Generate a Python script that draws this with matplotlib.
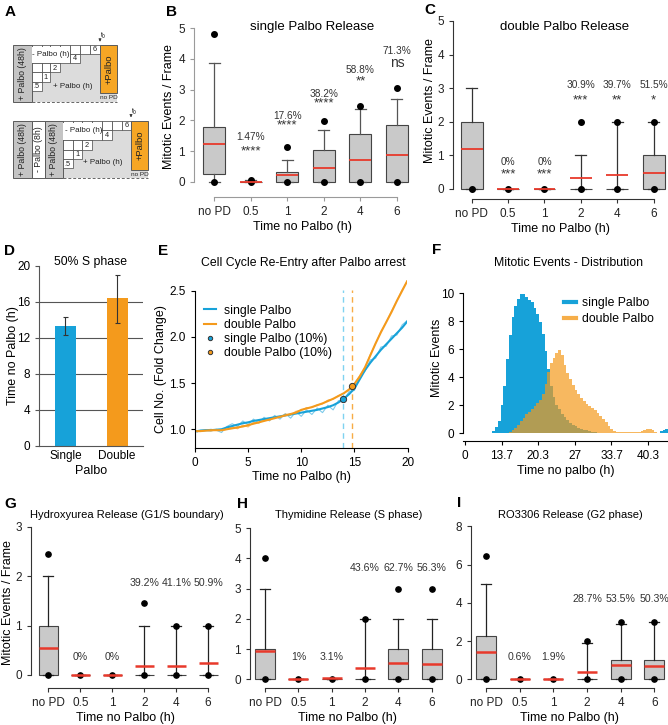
import numpy as np
import matplotlib
matplotlib.use('Agg')
import matplotlib.pyplot as plt
from matplotlib.patches import Rectangle

plt.rcParams['font.family'] = ['Liberation Sans', 'DejaVu Sans']

W, H = 668, 725
BLUE = '#17a2d9'
ORANGE = '#f49a1c'
RED = '#e8392b'
BOXGRAY = '#c9c9c9'

CATS = ['no PD', '0.5', '1', '2', '4', '6']

# --- B: single Palbo release (box stats)
B_Q1 = [0.25, 0, 0, 0, 0, 0]
B_MED = [1.22, 0.0, 0.22, 0.45, 0.72, 0.88]
B_Q3 = [1.8, 0.0, 0.32, 1.05, 1.55, 1.84]
B_HI = [3.85, 0.05, 0.7, 1.68, 2.37, 2.7]
B_OUT = [[0, 4.8], [0, 0.06], [0, 1.12], [0, 1.97], [0, 2.47], [0, 3.05]]
B_PCT = ['', '1.47%', '17.6%', '38.2%', '58.8%', '71.3%']
B_SIG = ['', '****', '****', '****', '**', 'ns']

# --- C: double Palbo release
C_Q1 = [0, 0, 0, 0, 0, 0]
C_MED = [1.2, 0, 0, 0.33, 0.4, 0.47]
C_Q3 = [2, 0, 0, 0, 0, 1]
C_HI = [3, 0, 0, 1, 2, 2]
C_OUT = [[0], [0], [0], [0, 2], [0, 2], [0, 2]]
C_PCT = ['', '0%', '0%', '30.9%', '39.7%', '51.5%']
C_SIG = ['', '***', '***', '***', '**', '*']

# --- D: 50% S phase
D_CATS = ['Single', 'Double']
D_VALS = [13.3, 16.4]
D_ERR_LO = [12.3, 13.7]
D_ERR_HI = [14.3, 19.0]

# --- E: cell number fold change
E_T = [0.2, 0.5, 1.0, 1.5, 2.0, 2.5, 3.0, 3.5, 4.0, 4.5, 5.0, 5.5, 6.0, 6.5,
       7.0, 7.5, 8.0, 8.5, 9.0, 9.5, 10.0, 10.5, 11.0, 11.5, 12.0, 12.5, 13.0,
       13.5, 14.0, 14.5, 15.0, 15.5, 16.0, 16.5, 17.0, 17.5, 18.0, 18.5, 19.0,
       19.5, 20.0]
E_SINGLE_RAW = [0.97, 0.99, 0.99, 1.0, 0.99, 0.965, 1.03, 1.06, 1.03, 1.09, 1.05,
                1.11, 1.07, 1.13, 1.09, 1.15, 1.11, 1.17, 1.12, 1.19, 1.14, 1.21,
                1.16, 1.23, 1.18, 1.26, 1.21, 1.31, 1.31, 1.41, 1.42, 1.57, 1.63,
                1.75, 1.77, 1.89, 1.90, 2.01, 2.02, 2.13, 2.18]
E_SINGLE_FIT = [0.98, 0.985, 0.99, 0.99, 0.995, 1.0, 1.02, 1.035, 1.05, 1.065,
                1.075, 1.09, 1.10, 1.11, 1.12, 1.13, 1.14, 1.15, 1.16, 1.17, 1.18,
                1.19, 1.20, 1.21, 1.225, 1.24, 1.26, 1.29, 1.33, 1.38, 1.44, 1.54,
                1.64, 1.72, 1.79, 1.86, 1.92, 1.98, 2.04, 2.10, 2.17]
E_DOUBLE_RAW = [0.98, 0.985, 0.99, 0.98, 1.0, 0.985, 1.0, 1.025, 1.005, 1.045, 1.025,
                1.075, 1.065, 1.105, 1.095, 1.135, 1.125, 1.165, 1.155, 1.195, 1.205,
                1.235, 1.235, 1.265, 1.275, 1.315, 1.325, 1.365, 1.385, 1.435, 1.49,
                1.58, 1.67, 1.81, 1.93, 2.06, 2.16, 2.28, 2.39, 2.51, 2.61]
E_DOUBLE_FIT = [0.98, 0.98, 0.985, 0.99, 0.99, 0.99, 1.0, 1.01, 1.02, 1.03, 1.045,
                1.06, 1.075, 1.09, 1.105, 1.12, 1.135, 1.15, 1.165, 1.18, 1.21,
                1.225, 1.24, 1.26, 1.28, 1.305, 1.33, 1.36, 1.39, 1.43, 1.49, 1.57,
                1.67, 1.80, 1.93, 2.05, 2.16, 2.27, 2.39, 2.50, 2.61]
E_MARK_T = [13.9, 14.8]
E_MARK_Y = [1.33, 1.47]

# --- F: mitotic event distribution, 0.5 h bins starting at 8 h
F_BIN0 = 8.0
F_BINW = 0.5
F_SINGLE = [0.05, 0.05, 0, 0, 0, 0, 0, 0.05, 0.15, 0.45, 0.9, 2.0, 3.4, 5.3, 7.0,
            8.3, 9.1, 9.6, 9.95, 9.95, 9.75, 9.55, 9.35, 8.95, 8.5, 7.95, 7.1, 5.9,
            4.6, 3.4, 2.6, 2.05, 1.7, 1.4, 1.15, 0.95, 0.75, 0.6, 0.5, 0.4, 0.32,
            0.25, 0.2, 0.15, 0.12, 0.08, 0.05, 0.03,
            0, 0, 0, 0, 0, 0, 0, 0, 0, 0, 0, 0, 0, 0, 0, 0, 0, 0, 0, 0,
            0.05, 0.15, 0.25, 0.3]
F_DOUBLE = [0.05, 0.05, 0, 0, 0, 0, 0, 0, 0, 0, 0, 0, 0,
            0.05, 0.1, 0.2, 0.35, 0.6, 0.85, 1.1, 1.35, 1.55, 1.75, 1.95, 2.15,
            2.4, 2.8, 3.5, 4.4, 5.0, 5.35, 5.7, 5.95, 5.6, 4.9, 4.3, 3.85, 3.45,
            3.1, 2.8, 2.5, 2.3, 2.1, 1.95, 1.8, 1.65, 1.45, 1.25, 1.05, 0.8, 0.55,
            0.3, 0.15, 0.1, 0.1, 0.08, 0.1, 0.08, 0.1, 0.1, 0.1, 0.12, 0.15, 0.25,
            0.3, 0.3, 0.2, 0.1, 0.05, 0, 0, 0]
F_TICKS = [7.0, 13.7, 20.3, 27.0, 33.7, 40.3]
F_TICKLABELS = ['0', '13.7', '20.3', '27', '33.7', '40.3']

# --- G: hydroxyurea release
G_Q1 = [0, 0, 0, 0, 0, 0]
G_MED = [0.55, 0, 0, 0.19, 0.19, 0.24]
G_Q3 = [1, 0, 0, 0, 0, 0]
G_HI = [2, 0, 0, 1, 1, 1]
G_OUT = [[0, 2.45], [0], [0], [0, 1.45], [0, 1], [0, 1]]
G_PCT = ['', '0%', '0%', '39.2%', '41.1%', '50.9%']

# --- H: thymidine release
H_Q1 = [0, 0, 0, 0, 0, 0]
H_MED = [0.95, 0.01, 0.03, 0.38, 0.55, 0.5]
H_Q3 = [1, 0, 0, 0, 1, 1]
H_HI = [3, 0, 0, 2, 2, 2]
H_OUT = [[0, 4], [0], [0], [0, 2], [0, 3], [0, 3]]
H_PCT = ['', '1%', '3.1%', '43.6%', '62.7%', '56.3%']

# --- I: RO3306 release
I_Q1 = [0, 0, 0, 0, 0, 0]
I_MED = [1.45, 0.0, 0.02, 0.4, 0.75, 0.72]
I_Q3 = [2.25, 0, 0, 0, 1, 1]
I_HI = [5, 0, 0, 1.9, 2.9, 3]
I_OUT = [[0, 6.45], [0], [0], [0, 2], [0, 3], [0, 3]]
I_PCT = ['', '0.6%', '1.9%', '28.7%', '53.5%', '50.3%']

TICK_FS = 8.5
LAB_FS = 9


def px_axes(fig, left, top, right, bottom):
    return fig.add_axes([left / W, 1 - bottom / H, (right - left) / W, (bottom - top) / H])


def boxes(ax, q1, med, q3, hi, out, spine='#333333', wcol='#333333', mlw=1.3, ms=4):
    stats = []
    for i in range(len(q1)):
        stats.append(dict(q1=q1[i], med=med[i], q3=q3[i], whislo=0, whishi=hi[i],
                          fliers=out[i]))
    ax.bxp(stats, positions=range(len(stats)), widths=0.6, patch_artist=True,
           boxprops=dict(facecolor=BOXGRAY, edgecolor='#444444', lw=0.8),
           medianprops=dict(color=RED, lw=mlw, solid_capstyle='butt'),
           whiskerprops=dict(color=wcol, lw=0.9),
           capprops=dict(color=wcol, lw=0.9),
           flierprops=dict(marker='o', mfc='k', mec='k', ms=ms, ls='none'))
    for s in ['top', 'right']:
        ax.spines[s].set_visible(False)
    for s in ['left', 'bottom']:
        ax.spines[s].set_color(spine)
        ax.spines[s].set_linewidth(0.8)
    ax.spines['bottom'].set_bounds(0, 5)
    ax.set_xticks(range(len(CATS)))
    ax.set_xticklabels(CATS)
    ax.tick_params(colors='#222222', color=spine, width=0.8, length=3)


def scheme(ax, bands, cols, rows, y_bot, minus_xy, plus_xy):
    y_top = rows[0]
    x0 = cols[0]
    xo0 = cols[-1]
    xo1 = xo0 + 17.3
    ax.add_patch(Rectangle((x0, y_top), xo1 - x0, y_bot - y_top, fc='#dcdcdc', ec='none'))
    for bx0, bx1, fc, txt in bands:
        ax.add_patch(Rectangle((bx0, y_top), bx1 - bx0, y_bot - y_top, fc=fc,
                               ec='#5a5a5a', lw=0.7))
        ax.text((bx0 + bx1) / 2, (y_top + y_bot) / 2, txt, rotation=90,
                ha='center', va='center', fontsize=6.3, color='#222222')
    # staircase of "- Palbo" cells
    row_end = [7, 5, 3, 2, 1]
    labels = ['6', '4', '2', '1', '.5']
    for r in range(5):
        for c in range(row_end[r]):
            ax.add_patch(Rectangle((cols[c], rows[r]), cols[c + 1] - cols[c],
                                   rows[r + 1] - rows[r], fc='white', ec='#444444', lw=0.5))
        c = row_end[r] - 1
        ax.text((cols[c] + cols[c + 1]) / 2, (rows[r] + rows[r + 1]) / 2 + 0.3, labels[r],
                ha='center', va='center', fontsize=5.3, color='#222222')
    ax.add_patch(Rectangle((cols[0] + 0.4, rows[0] + 2.2), cols[4] - cols[0] - 0.8,
                           rows[2] - rows[0] - 2.6, fc='white', ec='none'))
    ax.text(minus_xy[0], minus_xy[1], '- Palbo (h)', ha='center', va='center',
            fontsize=5.8, color='#222222')
    ax.text(plus_xy[0], plus_xy[1], '+ Palbo (h)', ha='center', va='center',
            fontsize=5.8, color='#222222')
    # +Palbo orange block
    ax.add_patch(Rectangle((xo0, y_top), xo1 - xo0, y_bot - y_top - 8.4, fc='#f6a625',
                           ec='#5a5a5a', lw=0.7))
    ax.text((xo0 + xo1) / 2, (y_top + y_bot - 8.4) / 2, '+Palbo', rotation=90,
            ha='center', va='center', fontsize=6.8, color='#222222')
    ax.text((xo0 + xo1) / 2, y_bot - 4, 'no PD', ha='center', va='center',
            fontsize=4.6, color='#222222')
    ax.plot([x0, xo1], [y_bot, y_bot], ls=(0, (3, 2)), color='#666666', lw=0.7)
    ax.annotate('', xy=(xo0, y_top - 0.5), xytext=(xo0, y_top - 9),
                arrowprops=dict(arrowstyle='-|>', lw=0.5, color='#333333',
                                mutation_scale=4))
    ax.text(xo0 + 0.3, y_top - 9, 't$_0$', fontsize=4.8, ha='left', va='center')


fig = plt.figure(figsize=(W / 100, H / 100), dpi=100)

# ---------------- A: schematic
axA = fig.add_axes([0, 1 - 240 / H, 170 / W, 240 / H])
axA.set_xlim(0, 170)
axA.set_ylim(240, 0)
axA.axis('off')
scheme(axA, [(13.3, 31.7, '#c4c4c4', '+ Palbo (48h)')],
       [31.7, 41.7, 50, 60, 70, 80, 90, 100], [45, 54, 63.3, 72.3, 81.7, 90.7],
       101.7, (51, 54.8), (73, 87))
scheme(axA, [(13.3, 31.7, '#c4c4c4', '+ Palbo (48h)'),
             (31.7, 45, 'white', '- Palbo (8h)'),
             (45, 62.7, '#c4c4c4', '+ Palbo (48h)')],
       [62.7, 72.7, 81.7, 91.7, 101.7, 111.7, 121.7, 131],
       [120.7, 130, 140, 150, 159.3, 168.3], 178.3, (84, 130.5), (103, 163))

# ---------------- B
axB = px_axes(fig, 193.9, 23.4, 411.6, 196.7)
boxes(axB, B_Q1, B_MED, B_Q3, B_HI, B_OUT, spine='#9a9a9a', wcol='#555555')
axB.set_xlim(-0.55, 5.4)
axB.set_ylim(-0.48, 5.15)
axB.spines['left'].set_bounds(0, 5)
axB.set_yticks([0, 1, 2, 3, 4, 5])
axB.tick_params(labelsize=TICK_FS)
pct_y = [0, 1.45, 2.15, 2.85, 3.62, 4.26]
sig_y = [0, 1.0, 1.82, 2.54, 3.28, 3.86]
for i in range(1, 6):
    axB.text(i, pct_y[i], B_PCT[i], ha='center', va='center', fontsize=7.3, color='#333333')
    axB.text(i, sig_y[i], B_SIG[i], ha='center', va='center',
             fontsize=10 if B_SIG[i] == 'ns' else 9.5, color='#333333')
axB.text(0.541, 0.981, 'single Palbo Release', transform=axB.transAxes,
         ha='center', va='center', fontsize=9.5)
axB.set_ylabel('Mitotic Events / Frame', fontsize=LAB_FS)
axB.yaxis.set_label_coords(-0.085, 0.52)
axB.set_xlabel('Time no Palbo (h)', fontsize=LAB_FS, labelpad=2)

# ---------------- C
axC = px_axes(fig, 453, 19.3, 668, 199.3)
boxes(axC, C_Q1, C_MED, C_Q3, C_HI, C_OUT)
axC.set_xlim(-0.51, 5.39)
axC.set_ylim(-0.31, 5.05)
axC.spines['left'].set_bounds(0, 5)
axC.set_yticks([0, 1, 2, 3, 4, 5])
axC.tick_params(labelsize=TICK_FS)
for i in range(1, 6):
    py, sy = (0.79, 0.44) if i < 3 else (3.1, 2.63)
    axC.text(i, py, C_PCT[i], ha='center', va='center', fontsize=7.3, color='#333333')
    axC.text(i, sy, C_SIG[i], ha='center', va='center', fontsize=9.5, color='#333333')
axC.text(0.52, 0.959, 'double Palbo Release', transform=axC.transAxes,
         ha='center', va='center', fontsize=9.5)
axC.set_ylabel('Mitotic Events / Frame', fontsize=LAB_FS)
axC.yaxis.set_label_coords(-0.081, 0.55)
axC.set_xlabel('Time no Palbo (h)', fontsize=LAB_FS, labelpad=2)

# ---------------- D
axD = px_axes(fig, 39.3, 266, 143, 445.7)
for y in [4, 8, 12, 16]:
    axD.axhline(y, color='#555555', lw=0.8, zorder=0)
yerr = [[D_VALS[i] - D_ERR_LO[i] for i in range(2)],
        [D_ERR_HI[i] - D_VALS[i] for i in range(2)]]
axD.bar([0, 1], D_VALS, width=0.41, color=[BLUE, ORANGE], zorder=2)
axD.errorbar([0, 1], D_VALS, yerr=yerr, fmt='none', ecolor='#333333', elinewidth=0.8,
             capsize=1.8, capthick=0.8, zorder=3)
axD.set_xlim(-0.507, 1.5)
axD.set_ylim(0, 20)
axD.set_yticks([0, 4, 8, 12, 16, 20])
axD.set_xticks([0, 1])
axD.set_xticklabels(D_CATS)
axD.tick_params(axis='x', length=0, labelsize=TICK_FS, pad=3)
axD.tick_params(axis='y', labelsize=TICK_FS, length=3, width=0.8, color='#555555')
for s in ['top', 'right']:
    axD.spines[s].set_visible(False)
axD.spines['left'].set_color('#555555')
axD.spines['bottom'].set_color('#555555')
axD.text(0.496, 1.022, '50% S phase', transform=axD.transAxes, ha='center',
         va='center', fontsize=8.8)
axD.set_ylabel('Time no Palbo (h)', fontsize=LAB_FS)
axD.yaxis.set_label_coords(-0.2, 0.5)
axD.set_xlabel('Palbo', fontsize=LAB_FS, labelpad=2)

# ---------------- E
axE = px_axes(fig, 195, 279.6, 407.5, 448.3)
axE.plot(E_T, E_SINGLE_RAW, color='#7ccaea', lw=0.8)
axE.plot(E_T, E_DOUBLE_RAW, color='#f8bb6a', lw=0.8)
axE.plot(E_T, E_SINGLE_FIT, color=BLUE, lw=1.5, label='single Palbo')
axE.plot(E_T, E_DOUBLE_FIT, color=ORANGE, lw=1.5, label='double Palbo')
axE.axvline(E_MARK_T[0], ymax=0.94, color='#7fd2f0', lw=1.0, ls=(0, (4, 3)))
axE.axvline(E_MARK_T[1], ymax=0.94, color='#f7ac45', lw=1.0, ls=(0, (4, 3)))
axE.plot(E_MARK_T[0], E_MARK_Y[0], 'o', mfc=BLUE, mec='#333333', ms=4.5, mew=0.7,
         ls='none', label='single Palbo (10%)')
axE.plot(E_MARK_T[1], E_MARK_Y[1], 'o', mfc=ORANGE, mec='#333333', ms=4.5, mew=0.7,
         ls='none', label='double Palbo (10%)')
axE.set_xlim(0, 20)
axE.set_ylim(0.794, 2.62)
axE.set_xticks([0, 5, 10, 15, 20])
axE.set_yticks([1.0, 1.5, 2.0, 2.5])
axE.set_yticklabels(['1.0', '1.5', '2.0', '2.5'])
axE.spines['left'].set_bounds(0.794, 2.5)
for s in ['top', 'right']:
    axE.spines[s].set_visible(False)
axE.tick_params(labelsize=TICK_FS, length=3, width=0.8)
leg = axE.legend(loc='upper left', bbox_to_anchor=(0.02, 0.88), frameon=False,
                 fontsize=8.8, handlelength=1.0, handletextpad=0.6, labelspacing=0.18,
                 borderaxespad=0, markerscale=0.7)
axE.text(0.508, 1.098, 'Cell Cycle Re-Entry after Palbo arrest', transform=axE.transAxes,
         ha='center', va='center', fontsize=8.8)
axE.set_ylabel('Cell No. (Fold Change)', fontsize=LAB_FS)
axE.yaxis.set_label_coords(-0.131, 0.47)
axE.set_xlabel('Time no Palbo (h)', fontsize=LAB_FS, labelpad=1)

# ---------------- F
axF = px_axes(fig, 463.3, 290.5, 668, 440.7)
fx = F_BIN0 + F_BINW * np.arange(len(F_SINGLE) + 1)
axF.fill_between(fx, np.append(F_SINGLE, F_SINGLE[-1]), step='post', color=BLUE, lw=0)
axF.fill_between(fx, np.append(F_DOUBLE, F_DOUBLE[-1]), step='post', color=ORANGE,
                 alpha=0.7, lw=0)
axF.set_xlim(6.7, 44.0)
axF.set_ylim(-0.53, 10.2)
axF.set_xticks(F_TICKS)
axF.set_xticklabels(F_TICKLABELS)
axF.set_yticks([0, 2, 4, 6, 8, 10])
axF.spines['left'].set_bounds(0, 10)
for s in ['top', 'right']:
    axF.spines[s].set_visible(False)
axF.tick_params(labelsize=TICK_FS, length=3, width=0.8)
hl = [plt.Line2D([], [], color=BLUE, lw=3), plt.Line2D([], [], color=ORANGE, alpha=0.8, lw=3)]
axF.legend(hl, ['single Palbo', 'double Palbo'], loc='upper right', bbox_to_anchor=(0.955, 0.99),
           frameon=False, fontsize=8.8, handlelength=1.0, handletextpad=0.5,
           labelspacing=0.35, borderaxespad=0)
axF.text(0.513, 1.185, 'Mitotic Events - Distribution', transform=axF.transAxes,
         ha='center', va='center', fontsize=8.8)
axF.set_ylabel('Mitotic Events', fontsize=LAB_FS)
axF.yaxis.set_label_coords(-0.097, 0.55)
axF.set_xlabel('Time no palbo (h)', fontsize=LAB_FS, labelpad=2)

# ---------------- G, H, I
bottom_panels = [
    (30.7, 525.8, 220, (-0.55, 5.37), (-0.27, 3.02), [0, 1, 2, 3],
     (G_Q1, G_MED, G_Q3, G_HI, G_OUT), G_PCT, (0.37, 1.87),
     'Hydroxyurea Release (G1/S boundary)', 0.507, 1.066),
    (250, 527.7, 445, (-0.45, 5.4), (-0.3, 5.02), [0, 1, 2, 3, 4, 5],
     (H_Q1, H_MED, H_Q3, H_HI, H_OUT), H_PCT, (0.75, 3.68),
     'Thymidine Release (S phase)', 0.504, 1.079),
    (471, 526.1, 668, (-0.45, 5.41), (-0.47, 8.02), [0, 2, 4, 6, 8],
     (I_Q1, I_MED, I_Q3, I_HI, I_OUT), I_PCT, (1.19, 4.19),
     'RO3306 Release (G2 phase)', 0.503, 1.068),
]
for k, (l, t, r, xl, yl, yt, st, pct, pys, title, tx, ty) in enumerate(bottom_panels):
    ax = px_axes(fig, l, t, r, 688.3)
    boxes(ax, *st, spine='#333333', wcol='#222222', mlw=1.8, ms=3.8)
    ax.set_xlim(*xl)
    ax.set_ylim(*yl)
    ax.set_yticks(yt)
    ax.spines['left'].set_bounds(0, yt[-1])
    ax.tick_params(labelsize=TICK_FS)
    for i in range(1, 6):
        ax.text(i, pys[0] if i < 3 else pys[1], pct[i], ha='center', va='center',
                fontsize=7.6, color='#333333')
    ax.text(tx, ty, title, transform=ax.transAxes, ha='center', va='center', fontsize=8)
    ax.set_xlabel('Time no Palbo (h)', fontsize=LAB_FS, labelpad=2)
    if k == 0:
        ax.set_ylabel('Mitotic Events / Frame', fontsize=LAB_FS)
        ax.yaxis.set_label_coords(-0.089, 0.53)

# panel letters
for letter, x, y in [('A', 5, 12), ('B', 166, 12), ('C', 424, 10), ('D', 4, 251),
                     ('E', 158, 251), ('F', 432, 250), ('G', 4, 504), ('H', 237, 504),
                     ('I', 457, 503)]:
    fig.text(x / W, 1 - y / H, letter, fontsize=11, fontweight='bold', va='center', ha='left')

fig.savefig('out.png', dpi=100)
